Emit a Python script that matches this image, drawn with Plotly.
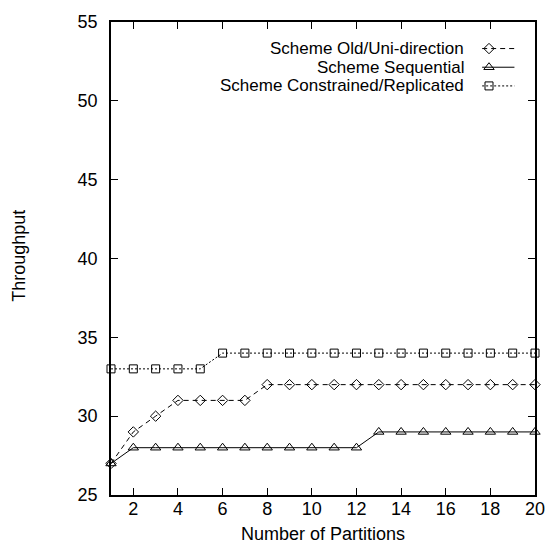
import plotly.graph_objects as go

# ---- data ----
partitions = list(range(1, 21))
old_uni = [27, 29, 30, 31, 31, 31, 31, 32, 32, 32, 32, 32, 32, 32, 32, 32, 32, 32, 32, 32]
sequential = [27, 28, 28, 28, 28, 28, 28, 28, 28, 28, 28, 28, 29, 29, 29, 29, 29, 29, 29, 29]
constrained = [33, 33, 33, 33, 33, 34, 34, 34, 34, 34, 34, 34, 34, 34, 34, 34, 34, 34, 34, 34]
series_names = ["Scheme Old/Uni-direction", "Scheme Sequential", "Scheme Constrained/Replicated"]
x_ticks = list(range(2, 21, 2))
y_ticks = list(range(25, 56, 5))

# ---- layout constants ----
W, H = 557, 546
L, R, T, B = 110.7, 544, 14, 495
FONT = "Liberation Sans, Arial, Helvetica, sans-serif"
FS = 18
KEY_FS = 17

styles = [
    dict(symbol="diamond-open", size=8, dash="5px,4px"),
    dict(symbol="triangle-up-open", size=9, dash="solid"),
    dict(symbol="square-open", size=8, dash="2px,2px"),
]
data = [old_uni, sequential, constrained]

fig = go.Figure()
for ys, st, nm in zip(data, styles, series_names):
    fig.add_trace(go.Scatter(
        x=partitions, y=ys, mode="lines+markers", name=nm, showlegend=False,
        line=dict(color="black", width=1, dash=st["dash"]),
        marker=dict(symbol=st["symbol"], size=st["size"], color="black",
                    line=dict(color="black", width=1)),
        cliponaxis=False,
    ))

# ---- gnuplot-style key (text right, sample left) on pixel overlay axes ----
key_rows = [41, 60, 79]
key_text_right = 473
key_line = (490, 523)
key_marker_x = 497
for nm, st, ky in zip(series_names, styles, key_rows):
    fig.add_trace(go.Scatter(
        x=list(key_line), y=[ky, ky], mode="lines", xaxis="x2", yaxis="y2",
        showlegend=False, hoverinfo="skip",
        line=dict(color="black", width=1, dash=st["dash"]),
    ))
    fig.add_trace(go.Scatter(
        x=[key_marker_x], y=[ky], mode="markers", xaxis="x2", yaxis="y2",
        showlegend=False, hoverinfo="skip",
        marker=dict(symbol=st["symbol"], size=st["size"], color="black",
                    line=dict(color="black", width=1)),
    ))
    fig.add_annotation(x=key_text_right, y=ky, xref="x2", yref="y2", text=nm,
                       showarrow=False, xanchor="right", yanchor="middle",
                       font=dict(family=FONT, size=KEY_FS, color="black"))

axis_common = dict(
    showgrid=False, zeroline=False, showline=True, linecolor="black", linewidth=1.5,
    ticks="inside", ticklen=7, tickwidth=1, tickcolor="black", mirror="ticks",
    tickfont=dict(family=FONT, size=FS, color="black"),
)

fig.update_layout(
    width=W, height=H,
    margin=dict(l=L, r=W - R, t=T, b=H - B, pad=0),
    plot_bgcolor="white", paper_bgcolor="white",
    xaxis=dict(range=[1, 20], tickvals=x_ticks, ticklabelstandoff=-3, **axis_common),
    yaxis=dict(range=[25, 55], tickvals=y_ticks, ticklabelstandoff=8, **axis_common),
    xaxis2=dict(range=[L, R], overlaying="x", visible=False, fixedrange=True),
    yaxis2=dict(range=[B, T], overlaying="y", visible=False, fixedrange=True),
    showlegend=False,
)

# axis titles
fig.add_annotation(x=0.5, y=0, xref="paper", yref="paper", yshift=-39,
                   text="Number of Partitions", showarrow=False,
                   xanchor="center", yanchor="middle",
                   font=dict(family=FONT, size=FS, color="black"))
fig.add_annotation(x=0, y=0.5, xref="paper", yref="paper", xshift=-(L - 18), yshift=3,
                   text="Throughput", showarrow=False, textangle=-90,
                   xanchor="center", yanchor="middle",
                   font=dict(family=FONT, size=FS, color="black"))

fig.write_html("out.html")
